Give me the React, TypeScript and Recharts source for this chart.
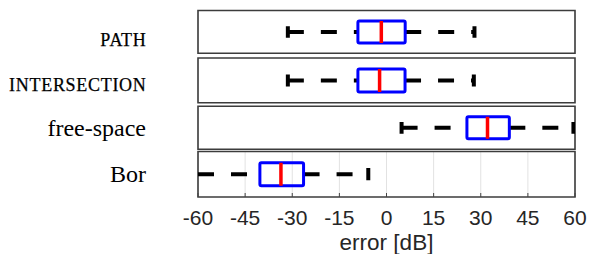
import React from 'react';
import { ComposedChart, Bar, XAxis, YAxis, CartesianGrid, ReferenceArea } from 'recharts';

const categories = ['PATH', 'INTERSECTION', 'free-space', 'Bor'];
const smallCapsCategories = ['PATH', 'INTERSECTION'];
const lowerWhisker = [-31.4, -31.4, 4.8, -70.5];
const lowerQuartile = [-9.1, -9.1, 25.6, -40.3];
const medians = [-1.65, -2.2, 32.15, -33.6];
const upperQuartile = [5.95, 5.9, 39.1, -26.4];
const upperWhisker = [28.0, 27.8, 59.5, -5.8];
const xTicks = [-60, -45, -30, -15, 0, 15, 30, 45, 60];
const xDomain = [-60, 60];
const xLabel = 'error [dB]';

// layout of the four stacked panels (pixel geometry, not data)
const W = 589;
const H = 254;
const PLOT_LEFT = 198;
const PLOT_RIGHT = 575;
const panelLayout = [
  { top: 10.5, bottom: 53.3, labelDy: 14.1 },
  { top: 58, bottom: 102.8, labelDy: 10.6 },
  { top: 106.3, bottom: 149.3, labelDy: 8.2 },
  { top: 151.5, bottom: 197, labelDy: 7.3 },
];

const SANS = '"Liberation Sans", Arial, sans-serif';
const SERIF = '"Liberation Serif", "Times New Roman", serif';

function BoxShape(props: any) {
  const { x, y, width, height, payload } = props;
  if (!payload) return null;
  const { lo, q1, med, q3, hi } = payload;
  const px = (v: number) => x + ((v - lo) / (hi - lo)) * width;
  const cy = y + height / 2;
  const capH = height * 0.53;
  return (
    <g>
      <line x1={px(lo)} x2={px(q1)} y1={cy} y2={cy} stroke="#000" strokeWidth={4} strokeDasharray="16 17" />
      <line x1={px(q3)} x2={px(hi)} y1={cy} y2={cy} stroke="#000" strokeWidth={4} strokeDasharray="16 17" />
      <line x1={px(lo)} x2={px(lo)} y1={cy - capH / 2} y2={cy + capH / 2} stroke="#000" strokeWidth={4} />
      <line x1={px(hi)} x2={px(hi)} y1={cy - capH / 2} y2={cy + capH / 2} stroke="#000" strokeWidth={4} />
      <rect
        x={px(q1)}
        y={y}
        width={px(q3) - px(q1)}
        height={height}
        fill="none"
        stroke="#0000ff"
        strokeWidth={3}
        rx={1.5}
        strokeLinejoin="round"
      />
      <line x1={px(med)} x2={px(med)} y1={y} y2={y + height} stroke="#ff0000" strokeWidth={3.5} />
    </g>
  );
}

function makeLabelTick(dy: number) {
  return function LabelTick(props: any) {
    const { y, payload } = props;
    const value = String(payload?.value ?? '');
    const sc = smallCapsCategories.includes(value);
    return (
      <text
        x={sc ? 146.5 : 146}
        y={y + dy}
        textAnchor="end"
        fontFamily={SERIF}
        fontSize={sc ? 18 : 24}
        letterSpacing={sc ? 0.7 : 0}
        fill="#000"
        stroke={sc ? '#000' : 'none'}
        strokeWidth={sc ? 0.25 : 0}
      >
        {value}
      </text>
    );
  };
}

function Panel({ index }: { index: number }) {
  const lay = panelLayout[index];
  const last = index === panelLayout.length - 1;
  const row = {
    name: categories[index],
    range: [lowerWhisker[index], upperWhisker[index]],
    lo: lowerWhisker[index],
    q1: lowerQuartile[index],
    med: medians[index],
    q3: upperQuartile[index],
    hi: upperWhisker[index],
  };
  const bottomAxisHeight = last ? H - lay.bottom : 1;
  const margin = {
    top: lay.top - 1,
    bottom: last ? 0 : H - lay.bottom - 1,
    left: 0,
    right: W - PLOT_RIGHT,
  };
  return (
    <div style={{ position: 'absolute', left: 0, top: 0 }}>
      <ComposedChart
        width={W}
        height={H}
        data={[row]}
        layout="vertical"
        margin={margin}
        barCategoryGap="24.5%"
      >
        <CartesianGrid vertical horizontal={false} stroke="#e2e2e2" strokeWidth={1} />
        <XAxis
          type="number"
          domain={xDomain}
          ticks={xTicks}
          allowDataOverflow
          interval={0}
          height={bottomAxisHeight}
          axisLine={false}
          tickSize={-4}
          tickLine={{ stroke: '#444', strokeWidth: 1 }}
          tickMargin={17.2}
          tick={last ? { fontSize: 21, fill: '#262626', fontFamily: SANS } : false}
          label={
            last
              ? {
                  value: xLabel,
                  position: 'insideBottom',
                  offset: 4.5,
                  fontSize: 22.5,
                  fill: '#262626',
                  fontFamily: SANS,
                }
              : undefined
          }
        />
        <XAxis
          xAxisId="top"
          orientation="top"
          type="number"
          domain={xDomain}
          ticks={xTicks}
          allowDataOverflow
          interval={0}
          height={1}
          axisLine={false}
          tickSize={-4}
          tickLine={{ stroke: '#444', strokeWidth: 1 }}
          tick={false}
        />
        <YAxis
          type="category"
          dataKey="name"
          width={PLOT_LEFT}
          axisLine={false}
          tickLine={false}
          tickSize={0}
          tick={makeLabelTick(lay.labelDy)}
        />
        <ReferenceArea x1={-60} x2={60} fill="none" fillOpacity={0} stroke="#3c3c3c" strokeWidth={1.6} />
        <Bar dataKey="range" isAnimationActive={false} shape={(p: any) => <BoxShape {...p} />} />
      </ComposedChart>
    </div>
  );
}

export default function App() {
  return (
    <div style={{ position: 'absolute', left: 0, top: 0, width: W, height: H, background: '#fff' }}>
      {categories.map((_, i) => (
        <Panel key={i} index={i} />
      ))}
    </div>
  );
}
